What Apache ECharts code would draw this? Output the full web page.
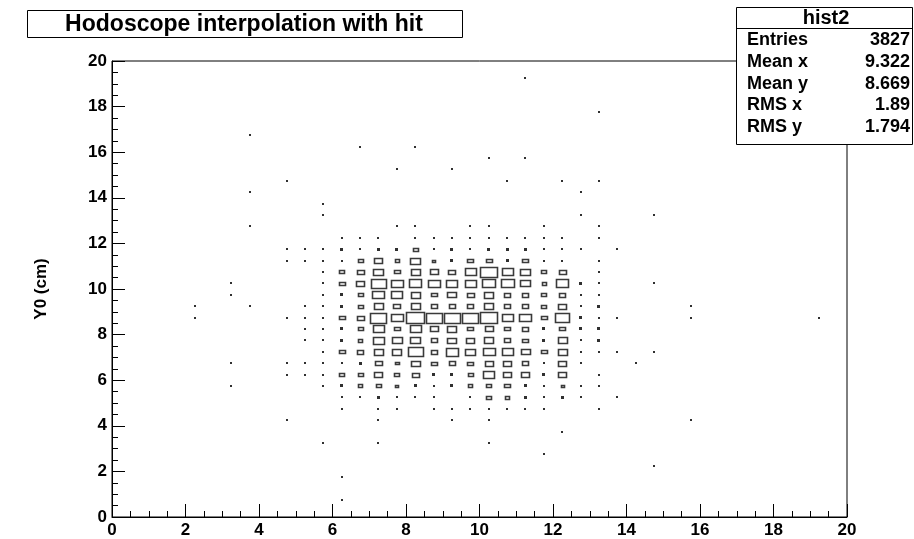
<!DOCTYPE html>
<html>
<head>
<meta charset="utf-8">
<script src="https://cdn.jsdelivr.net/npm/echarts@6/dist/echarts.min.js"></script>
<style>
  html, body { margin: 0; padding: 0; background: #ffffff; }
  #chart { width: 914px; height: 539px; }
</style>
</head>
<body>
<div id="chart"></div>
<script>
// Bin centres (cm) of the populated core of the 2D histogram (bin width 0.5 cm)
const xCentres = [4.75, 5.25, 5.75, 6.25, 6.75, 7.25, 7.75, 8.25, 8.75, 9.25,
                  9.75, 10.25, 10.75, 11.25, 11.75, 12.25, 12.75, 13.25, 13.75];
const yCentres = [12.75, 12.25, 11.75, 11.25, 10.75, 10.25, 9.75, 9.25, 8.75,
                  8.25, 7.75, 7.25, 6.75, 6.25, 5.75, 5.25, 4.75, 4.25];

// Entries per bin, one row per y centre (top to bottom), one column per x centre
const counts = [
  [0,0,0,0,0,0,1,1,0,0,1,1,0,0,1,0,0,1,0],
  [0,0,0,1,1,1,0,1,1,1,1,1,1,1,1,1,0,1,0],
  [1,1,1,2,1,2,2,6,1,2,1,2,2,2,1,1,1,0,1],
  [1,1,1,1,7,16,5,26,3,2,8,8,2,8,1,1,0,1,0],
  [0,0,1,7,13,26,8,20,16,13,32,72,30,24,6,13,0,1,0],
  [0,0,1,8,16,58,34,38,34,30,32,42,42,26,5,38,2,1,0],
  [0,0,1,2,6,34,30,20,8,19,13,20,10,10,6,10,1,1,0],
  [0,1,1,2,6,20,13,20,10,10,10,20,10,10,6,16,1,2,0],
  [1,1,1,8,13,64,34,80,64,64,64,76,30,34,8,52,2,1,1],
  [0,1,1,2,6,30,8,30,16,20,8,16,8,10,2,8,2,2,0],
  [0,1,1,2,5,30,26,26,10,19,16,20,10,8,2,20,1,2,0],
  [0,0,1,8,10,20,20,58,10,38,26,34,30,19,8,20,1,1,1],
  [1,1,1,1,2,13,4,19,8,10,8,16,16,10,1,16,1,0,0],
  [1,1,1,6,6,16,6,13,2,2,6,30,16,16,2,16,0,1,0],
  [0,0,1,2,5,7,3,2,1,2,5,6,8,2,1,3,1,1,0],
  [0,0,0,1,1,2,1,1,1,0,1,6,5,2,1,2,1,0,1],
  [0,0,0,1,0,1,1,0,1,1,1,1,1,1,1,0,0,1,0],
  [1,0,0,0,0,1,0,0,0,1,0,1,0,0,0,0,0,0,0]
];

// Isolated single hits outside the core: [x, y, entries]
const sparseHits = [
  [2.25, 9.25, 1], [2.25, 8.75, 1], [3.25, 10.25, 1], [3.25, 9.75, 1],
  [3.75, 9.25, 1], [3.25, 6.75, 1], [3.25, 5.75, 1], [3.75, 16.75, 1],
  [3.75, 14.25, 1], [3.75, 12.75, 1], [4.75, 14.75, 1], [5.75, 13.75, 1],
  [5.75, 13.25, 1], [5.75, 3.25, 1], [6.25, 1.75, 1], [6.25, 0.75, 1],
  [6.75, 16.25, 1], [7.25, 3.25, 1], [7.75, 15.25, 1], [8.25, 16.25, 1],
  [9.25, 15.25, 1], [10.25, 15.75, 1], [10.25, 3.25, 1], [10.75, 14.75, 1],
  [11.25, 19.25, 1], [11.25, 15.75, 1], [11.75, 2.75, 1], [12.25, 14.75, 1],
  [12.25, 3.75, 1], [12.75, 14.25, 1], [12.75, 13.25, 1], [13.25, 17.75, 1],
  [13.25, 14.75, 1], [14.25, 6.75, 1], [14.75, 13.25, 1], [14.75, 10.25, 1],
  [14.75, 7.25, 1], [14.75, 2.25, 1], [15.75, 9.25, 1], [15.75, 8.75, 1],
  [15.75, 4.25, 1], [19.25, 8.75, 1]
];

// Statistics panel
const statName = 'hist2';
const statLabels = ['Entries', 'Mean x', 'Mean y', 'RMS x', 'RMS y'];
const statValues = ['3827', '9.322', '8.669', '1.89', '1.794'];

const titleText = 'Hodoscope interpolation with hit';
const yTitle = 'Y0 (cm)';

const BIN = 0.5;      // bin width in cm
const VMAX = 85;      // content that would fill a whole bin
const FONT = '"Liberation Sans", Arial, Helvetica, sans-serif';

const boxData = [];
yCentres.forEach((y, r) => {
  xCentres.forEach((x, c) => {
    if (counts[r][c] > 0) boxData.push([x, y, counts[r][c]]);
  });
});
sparseHits.forEach(h => boxData.push(h));

// Box size grows with the square root of the bin content (area ~ entries)
function renderBox(params, api) {
  const c = api.coord([api.value(0), api.value(1)]);
  const s = api.size([BIN, BIN]);
  const n = api.value(2);
  const f = Math.sqrt(n / VMAX);
  let w = s[0] * f, h = s[1] * f;
  if (w < 3.2) {
    const d = n > 1 ? 3 : 2;
    return {
      type: 'rect',
      shape: { x: Math.round(c[0] - d / 2), y: Math.round(c[1] - d / 2), width: d, height: d },
      style: { fill: '#303030' }
    };
  }
  w = Math.max(3, Math.round(w));
  h = Math.max(2, Math.round(h));
  const x0 = Math.round(c[0] - w / 2) + 0.5;
  const y0 = Math.round(c[1] - h / 2) + 0.5;
  return {
    type: 'rect',
    shape: { x: x0, y: y0, width: w, height: h },
    style: { fill: 'none', stroke: '#3a3a3a', lineWidth: 1.6 }
  };
}

const statTop = 7, statLeft = 736, statW = 176, statH = 137, rowH = 21.6;
const statGraphics = [
  { type: 'rect', z: 100, shape: { x: statLeft + 0.5, y: statTop + 0.5, width: statW, height: statH },
    style: { fill: '#ffffff', stroke: '#000000', lineWidth: 1 } },
  { type: 'line', z: 101, shape: { x1: statLeft, y1: 28.5, x2: statLeft + statW, y2: 28.5 },
    style: { stroke: '#000000', lineWidth: 1 } },
  { type: 'text', z: 101, x: statLeft + statW / 2 + 2, y: 18,
    style: { text: statName, font: 'bold 20px ' + FONT, fill: '#000', align: 'center', verticalAlign: 'middle' } }
];
statLabels.forEach((lab, i) => {
  const yy = 40.5 + i * rowH;
  statGraphics.push({ type: 'text', z: 101, x: statLeft + 11, y: yy,
    style: { text: lab, font: 'bold 18px ' + FONT, fill: '#000', align: 'left', verticalAlign: 'middle' } });
  statGraphics.push({ type: 'text', z: 101, x: statLeft + statW - 2, y: yy,
    style: { text: statValues[i], font: 'bold 18px ' + FONT, fill: '#000', align: 'right', verticalAlign: 'middle' } });
});

const chart = echarts.init(document.getElementById('chart'), null, { renderer: 'canvas' });
chart.setOption({
  animation: false,
  backgroundColor: '#ffffff',
  grid: { left: 112, right: 67, top: 61, bottom: 20, show: true, borderColor: '#000', borderWidth: 1, backgroundColor: 'transparent' },
  xAxis: {
    type: 'value', min: 0, max: 20, interval: 2,
    axisLine: { show: true, onZero: false, lineStyle: { color: '#000', width: 1 } },
    axisTick: { show: true, inside: true, length: 13, lineStyle: { color: '#000' } },
    minorTick: { show: true, splitNumber: 4, length: 6, lineStyle: { color: '#000' } },
    splitLine: { show: false },
    axisLabel: { color: '#000', fontFamily: FONT, fontWeight: 'bold', fontSize: 17, margin: 5 }
  },
  yAxis: {
    type: 'value', min: 0, max: 20, interval: 2,
    axisLine: { show: true, onZero: false, lineStyle: { color: '#000', width: 1 } },
    axisTick: { show: true, inside: true, length: 13, lineStyle: { color: '#000' } },
    minorTick: { show: true, splitNumber: 4, length: 6, lineStyle: { color: '#000' } },
    splitLine: { show: false },
    axisLabel: { color: '#000', fontFamily: FONT, fontWeight: 'bold', fontSize: 17, margin: 5 },
    name: yTitle, nameLocation: 'middle', nameGap: 62, nameRotate: 90,
    nameTextStyle: { color: '#000', fontFamily: FONT, fontWeight: 'bold', fontSize: 17 }
  },
  series: [{
    type: 'custom',
    renderItem: renderBox,
    data: boxData,
    encode: { x: 0, y: 1 },
    clip: true,
    z: 5
  }],
  graphic: [
    { type: 'rect', z: 100, shape: { x: 27.5, y: 10.5, width: 435, height: 27 },
      style: { fill: '#ffffff', stroke: '#000000', lineWidth: 1 } },
    { type: 'text', z: 101, x: 244, y: 24.5,
      style: { text: titleText, font: 'bold 23px ' + FONT, fill: '#000', align: 'center', verticalAlign: 'middle' } }
  ].concat(statGraphics)
});
</script>
</body>
</html>
